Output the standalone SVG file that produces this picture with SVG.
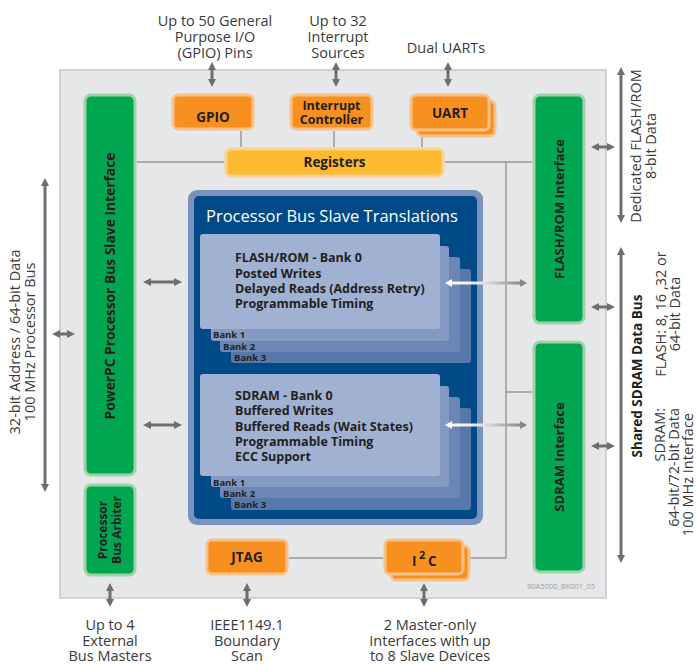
<svg xmlns="http://www.w3.org/2000/svg" width="696" height="664" viewBox="0 0 696 664">
<defs>
<style>
.lbl{font-family:"Open Sans","Noto Sans",sans-serif;font-size:14.5px;fill:#3a3a3a;text-anchor:middle}
.bl{font-family:"Open Sans","Noto Sans",sans-serif;font-weight:bold;fill:#231f20;text-anchor:middle}
.org{fill:#f7901e;stroke:#f8c189;stroke-width:3}
.grn{fill:#00a650;stroke:#9ed3a8;stroke-width:3}
.conn{stroke:#9a9a9a;stroke-width:1.5;fill:none}
.arr{stroke:#6d6e71;stroke-width:3;fill:none;marker-start:url(#ah);marker-end:url(#ah)}
.bt{font-family:"Open Sans","Noto Sans",sans-serif;font-weight:bold;font-size:12.5px;fill:#231f20}
.bk{font-family:"Open Sans","Noto Sans",sans-serif;font-weight:bold;font-size:9.5px;fill:#231f20}
</style>
<marker id="ah" viewBox="0 0 8 8" refX="4" refY="4" markerWidth="8" markerHeight="8" orient="auto-start-reverse" markerUnits="userSpaceOnUse"><path d="M0,0L8,4L0,8z" fill="#6d6e71"/></marker>
<linearGradient id="wg" x1="0" x2="1" y1="0" y2="0"><stop offset="0" stop-color="#ffffff"/><stop offset="0.45" stop-color="#e6e6e6"/><stop offset="1" stop-color="#7a7a7a"/></linearGradient>
</defs>

<rect x="60" y="70" width="546" height="528" fill="#e6e7e8" stroke="#c6c7c9" stroke-width="1.5"/>

<g id="connectors">
<path class="conn" d="M241,131V147M334,131V147M422,132V147"/>
<path class="conn" d="M137,162H224M445,162H532"/>
<path class="conn" d="M506,162V558H465M506,392H532M289,558H383"/>
<line class="arr" x1="212" y1="66" x2="212" y2="83"/>
<line class="arr" x1="336" y1="66" x2="336" y2="83"/>
<line class="arr" x1="448" y1="66" x2="448" y2="83"/>
<line class="arr" x1="110" y1="587" x2="110" y2="603"/>
<line class="arr" x1="247" y1="587" x2="247" y2="603"/>
<line class="arr" x1="424" y1="587" x2="424" y2="603"/>
<line class="arr" x1="45" y1="182" x2="45" y2="488"/>
<line class="arr" x1="56" y1="334" x2="71" y2="334"/>
<line class="arr" x1="147" y1="282" x2="178" y2="282"/>
<line class="arr" x1="147" y1="425" x2="178" y2="425"/>
<line class="arr" x1="595" y1="147" x2="611" y2="147"/>
<line class="arr" x1="595" y1="307" x2="611" y2="307"/>
<line class="arr" x1="595" y1="446" x2="611" y2="446"/>
<line class="arr" x1="621" y1="71" x2="621" y2="219"/>
<line class="arr" x1="621" y1="251" x2="621" y2="559"/>
</g>

<g id="translations">
<rect x="188" y="190" width="295" height="335" rx="9" fill="#7b93bc"/>
<rect x="194" y="196" width="283" height="323" rx="5" fill="#004a87"/>
<text x="206" y="222" font-family="Open Sans, Noto Sans, sans-serif" font-size="16.5" fill="#ffffff">Processor Bus Slave Translations</text>
</g>

<g id="flash-banks">
<rect x="231" y="269" width="240" height="94" rx="3" fill="#5877aa"/>
<rect x="220" y="257" width="240" height="95" rx="3" fill="#6c87b6"/>
<rect x="211" y="246" width="238" height="95" rx="3" fill="#839ac3"/>
<rect x="200" y="234" width="240" height="95" rx="3" fill="#a0b1d1"/>
<text class="bk" x="213" y="338">Bank 1</text>
<text class="bk" x="223" y="350">Bank 2</text>
<text class="bk" x="234" y="361">Bank 3</text>
<text class="bt"><tspan x="235" y="262">FLASH/ROM - Bank 0</tspan><tspan x="235" y="278">Posted Writes</tspan><tspan x="235" y="293">Delayed Reads (Address Retry)</tspan><tspan x="235" y="308">Programmable Timing</tspan></text>
<path d="M445,283L452,279V281.5H520V279L527,283L520,287V284.5H452V287Z" fill="url(#wg)"/>
</g>

<g id="sdram-banks">
<rect x="231" y="408" width="240" height="102" rx="3" fill="#5877aa"/>
<rect x="220" y="397" width="240" height="101" rx="3" fill="#6c87b6"/>
<rect x="211" y="386" width="238" height="101" rx="3" fill="#839ac3"/>
<rect x="200" y="374" width="240" height="102" rx="3" fill="#a0b1d1"/>
<text class="bk" x="213" y="486">Bank 1</text>
<text class="bk" x="223" y="497">Bank 2</text>
<text class="bk" x="234" y="508">Bank 3</text>
<text class="bt"><tspan x="235" y="400">SDRAM - Bank 0</tspan><tspan x="235" y="415">Buffered Writes</tspan><tspan x="235" y="431">Buffered Reads (Wait States)</tspan><tspan x="235" y="446">Programmable Timing</tspan><tspan x="235" y="461">ECC Support</tspan></text>
<path d="M445,425L452,421V423.5H520V421L527,425L520,429V426.5H452V429Z" fill="url(#wg)"/>
</g>

<g id="gpio">
<rect class="org" x="173" y="95" width="80" height="34" rx="5"/>
<text class="bl" x="213" y="122" font-size="13.5">GPIO</text>
</g>
<g id="interrupt">
<rect class="org" x="291" y="95" width="81" height="34" rx="5"/>
<text class="bl" font-size="12.5"><tspan x="331.5" y="110">Interrupt</tspan><tspan x="331.5" y="124">Controller</tspan></text>
</g>
<g id="uart">
<rect class="org" x="417" y="101" width="78" height="35" rx="5"/>
<rect class="org" x="411" y="95" width="78" height="35" rx="5"/>
<text class="bl" x="450" y="118" font-size="13.5">UART</text>
</g>
<g id="registers">
<rect x="226" y="149" width="217" height="27" rx="5" fill="#fdb930" stroke="#f9d38d" stroke-width="3"/>
<text class="bl" x="334.5" y="167" font-size="13.5">Registers</text>
</g>
<g id="powerpc">
<rect class="grn" x="85" y="95" width="50" height="380" rx="6"/>
<text class="bl" font-size="13.8" transform="translate(115,286) rotate(-90)">PowerPC Processor Bus Slave Interface</text>
</g>
<g id="arbiter">
<rect class="grn" x="85" y="485" width="50" height="90" rx="6"/>
<text class="bl" font-size="12" transform="translate(107,530) rotate(-90)"><tspan x="0" y="0">Processor</tspan><tspan x="0" y="14">Bus Arbiter</tspan></text>
</g>
<g id="flash-if">
<rect class="grn" x="534" y="95" width="50" height="228" rx="6"/>
<text class="bl" font-size="13" transform="translate(564,209) rotate(-90)">FLASH/ROM Interface</text>
</g>
<g id="sdram-if">
<rect class="grn" x="534" y="342" width="50" height="230" rx="6"/>
<text class="bl" font-size="13" transform="translate(564,457) rotate(-90)">SDRAM Interface</text>
</g>
<g id="jtag">
<rect class="org" x="207" y="540" width="80" height="34" rx="5"/>
<text class="bl" x="247" y="562" font-size="13.5">JTAG</text>
</g>
<g id="i2c">
<rect class="org" x="391" y="546" width="78" height="34" rx="5"/>
<rect class="org" x="385" y="540" width="78" height="34" rx="5"/>
<text class="bl" font-size="13.5" style="text-anchor:start"><tspan x="412" y="566">I</tspan><tspan x="419" y="559" font-size="11">2</tspan><tspan x="428" y="566">C</tspan></text>
</g>

<g id="labels">
<text class="lbl"><tspan x="215" y="26">Up to 50 General</tspan><tspan x="215" y="42">Purpose I/O</tspan><tspan x="215" y="58">(GPIO) Pins</tspan></text>
<text class="lbl"><tspan x="338" y="26">Up to 32</tspan><tspan x="338" y="42">Interrupt</tspan><tspan x="338" y="58">Sources</tspan></text>
<text class="lbl" x="446" y="53">Dual UARTs</text>
<text class="lbl"><tspan x="110" y="630">Up to 4</tspan><tspan x="110" y="645.5">External</tspan><tspan x="110" y="661">Bus Masters</tspan></text>
<text class="lbl"><tspan x="247" y="630">IEEE1149.1</tspan><tspan x="247" y="645.5">Boundary</tspan><tspan x="247" y="661">Scan</tspan></text>
<text class="lbl"><tspan x="430" y="630">2 Master-only</tspan><tspan x="430" y="645.5">Interfaces with up</tspan><tspan x="430" y="661">to 8 Slave Devices</tspan></text>
<text class="lbl" transform="translate(20,342) rotate(-90)"><tspan x="0" y="0">32-bit Address / 64-bit Data</tspan><tspan x="0" y="15">100 MHz Processor Bus</tspan></text>
<text class="lbl" transform="translate(641,146) rotate(-90)"><tspan x="0" y="0">Dedicated FLASH/ROM</tspan><tspan x="0" y="15">8-bit Data</tspan></text>
<text class="bl" font-size="13.5" transform="translate(642,376) rotate(-90)">Shared SDRAM Data Bus</text>
<text class="lbl" transform="translate(666,314) rotate(-90)"><tspan x="0" y="0">FLASH: 8, 16 ,32 or</tspan><tspan x="0" y="14">64-bit Data</tspan></text>
<text class="lbl" style="text-anchor:end" transform="translate(665,408) rotate(-90)"><tspan x="0" y="0">SDRAM:</tspan><tspan x="0" y="14">64-bit/72-bit Data</tspan><tspan x="-5" y="27.5">100 MHz Interface</tspan></text>
<text x="561" y="589" font-family="Open Sans, Noto Sans, sans-serif" font-size="7.5" fill="#a0a0a0" text-anchor="middle">80A5000_BK001_05</text>
</g>
</svg>
